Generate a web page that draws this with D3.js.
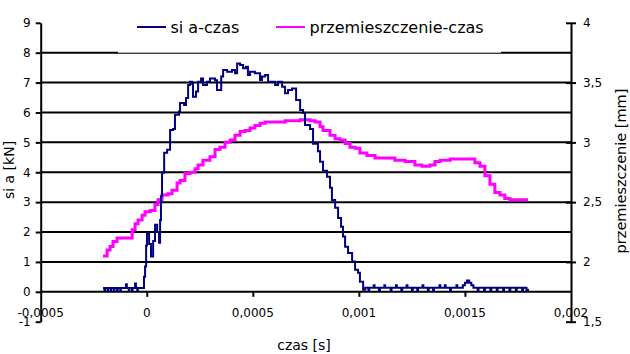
<!DOCTYPE html>
<html><head><meta charset="utf-8">
<script src="https://cdn.jsdelivr.net/npm/d3@7"></script>
<style>body{margin:0;background:#fff}svg{display:block}text{font-family:"DejaVu Sans",sans-serif;fill:#000}</style>
</head><body><svg id="c" width="630" height="354"></svg>
<script>
// ---- data (time in seconds) ----
const forceTime = [-206e-6,-200e-6,-197e-6,-185e-6,-182e-6,-170e-6,-167e-6,-155e-6,-152e-6,-140e-6,
 -137e-6,-125e-6,-122e-6,-98e-6,-94e-6,-85e-6,-82e-6,-70e-6,-67e-6,-55e-6,
 -51e-6,-45e-6,-42e-6,-13e-6,-8e-6,-3e-6,1e-6,11e-6,
 20e-6,30e-6,39e-6,49e-6,58e-6,63e-6,67e-6,72e-6,82e-6,96e-6,
 110e-6,124e-6,133e-6,152e-6,157e-6,176e-6,185e-6,195e-6,204e-6,214e-6,
 218e-6,232e-6,242e-6,256e-6,265e-6,284e-6,298e-6,322e-6,331e-6,351e-6,
 360e-6,379e-6,402e-6,416e-6,426e-6,440e-6,454e-6,468e-6,477e-6,487e-6,
 510e-6,534e-6,543e-6,558e-6,572e-6,591e-6,605e-6,619e-6,638e-6,652e-6,
 666e-6,685e-6,704e-6,723e-6,737e-6,746e-6,770e-6,784e-6,807e-6,817e-6,
 831e-6,850e-6,864e-6,873e-6,888e-6,902e-6,916e-6,925e-6,935e-6,949e-6,
 968e-6,982e-6,996e-6,1005e-6,1020e-6,1030e-6,1045e-6,1049e-6,1070e-6,1074e-6,
 1095e-6,1099e-6,1120e-6,1124e-6,1150e-6,1154e-6,1175e-6,1179e-6,1200e-6,1204e-6,
 1225e-6,1229e-6,1250e-6,1254e-6,1275e-6,1279e-6,1300e-6,1304e-6,1325e-6,1329e-6,
 1350e-6,1354e-6,1380e-6,1384e-6,1405e-6,1409e-6,1430e-6,1434e-6,1460e-6,1464e-6,
 1490e-6,1500e-6,1510e-6,1520e-6,1530e-6,1540e-6,1560e-6,1564e-6,1590e-6,1594e-6,
 1620e-6,1624e-6,1650e-6,1654e-6,1680e-6,1684e-6,1710e-6,1714e-6,1740e-6,1744e-6,
 1770e-6,1774e-6,1790e-6,1797e-6];
const forceValues = [0.13,0.05,0.13,0.05,0.13,0.05,0.13,0.05,0.13,0.05,
 0.13,0.05,0.13,0.25,0.13,0.05,0.13,0.05,0.13,0.28,
 0.13,0.05,0.13,0.5,0.85,1.55,1.97,1.6,
 1.18,1.7,2.24,2.0,1.64,2.4,3.2,3.98,4.65,4.75,
 5.41,5.45,5.92,6.03,6.32,6.25,6.48,6.92,7.03,6.95,
 6.53,6.7,7.03,7.14,6.92,7.03,7.14,7.08,6.75,7.2,
 7.42,7.36,7.42,7.31,7.64,7.59,7.48,7.53,7.25,7.36,
 7.31,7.09,7.2,7.25,7.03,7.03,6.92,7.03,6.86,6.64,
 6.75,6.8,6.42,6.08,5.98,5.58,5.45,4.95,4.7,4.35,
 4.05,3.85,3.48,3.07,2.81,2.47,2.18,1.85,1.51,1.3,
 1.01,0.74,0.64,0.34,0.07,0.14,0.05,0.14,0.22,0.14,
 0.05,0.14,0.22,0.14,0.05,0.14,0.22,0.14,0.05,0.14,
 0.22,0.14,0.05,0.14,0.05,0.14,0.22,0.14,0.05,0.14,
 0.05,0.14,0.22,0.14,0.22,0.14,0.05,0.14,0.22,0.14,
 0.22,0.3,0.38,0.3,0.22,0.14,0.05,0.14,0.05,0.14,
 0.05,0.14,0.05,0.14,0.05,0.14,0.05,0.14,0.05,0.14,
 0.05,0.14,0.05,0.1];
const dispTime = [-206e-6,-187e-6,-173e-6,-159e-6,-140e-6,-74e-6,-69e-6,-55e-6,-41e-6,-22e-6,
 -8e-6,16e-6,39e-6,53e-6,72e-6,100e-6,119e-6,143e-6,157e-6,180e-6,
 204e-6,228e-6,242e-6,265e-6,298e-6,322e-6,345e-6,369e-6,393e-6,416e-6,
 440e-6,463e-6,487e-6,510e-6,534e-6,558e-6,605e-6,652e-6,723e-6,746e-6,
 770e-6,794e-6,817e-6,831e-6,864e-6,888e-6,911e-6,935e-6,958e-6,982e-6,
 1005e-6,1038e-6,1076e-6,1123e-6,1170e-6,1218e-6,1264e-6,1297e-6,1335e-6,1359e-6,
 1383e-6,1430e-6,1477e-6,1524e-6,1547e-6,1571e-6,1594e-6,1618e-6,1641e-6,1665e-6,
 1688e-6,1712e-6,1797e-6];
const dispValues = [2.05,2.10,2.13,2.17,2.20,2.20,2.27,2.32,2.35,2.39,
 2.42,2.43,2.48,2.52,2.56,2.57,2.60,2.66,2.68,2.74,
 2.75,2.78,2.81,2.85,2.88,2.94,2.96,3.00,3.02,3.06,
 3.09,3.10,3.12,3.14,3.16,3.17,3.17,3.18,3.19,3.19,
 3.18,3.17,3.13,3.10,3.06,3.03,3.02,2.99,2.96,2.95,
 2.91,2.89,2.87,2.87,2.85,2.84,2.81,2.80,2.81,2.84,
 2.85,2.86,2.86,2.86,2.83,2.80,2.72,2.65,2.58,2.56,
 2.53,2.52,2.52];
const seriesNames = ["si a-czas", "przemieszczenie-czas"];
const seriesColors = ["#000080", "#ff00ff"];
const xTicks = [-0.0005, 0, 0.0005, 0.001, 0.0015, 0.002];
const xTickLabels = ["-0,0005", "0", "0,0005", "0,001", "0,0015", "0,002"];
const leftTicks = [-1, 0, 1, 2, 3, 4, 5, 6, 7, 8, 9];
const gridValues = [0, 1, 2, 3, 4, 5, 6, 7, 8];
const rightTicks = [1.5, 2, 2.5, 3, 3.5, 4];
const rightTickLabels = ["1,5", "2", "2,5", "3", "3,5", "4"];
const xTitle = "czas [s]", yLeftTitle = "si a [kN]", yRightTitle = "przemieszczenie [mm]";

// ---- layout ----
const L = 40.7, R = 571, T = 22.8, B = 321.7;
const svg = d3.select("#c");
const x = d3.scaleLinear().domain([-0.0005, 0.002]).range([L, R]);
const yL = d3.scaleLinear().domain([-1, 9]).range([B, T]);
const yR = d3.scaleLinear().domain([1.5, 4]).range([B, T]);

// gridlines
svg.append("g").selectAll("line").data(gridValues).join("line")
  .attr("x1", L).attr("x2", R).attr("y1", d => yL(d)).attr("y2", d => yL(d))
  .attr("stroke", "#000").attr("stroke-width", 2);

// x axis at y=0
const xAxis = d3.axisBottom(x).tickValues(xTicks.slice(1, -1)).tickSize(5).tickSizeOuter(0).tickFormat("");
const gx = svg.append("g").attr("transform", `translate(0,${yL(0)})`).call(xAxis);
gx.select(".domain").remove();
gx.selectAll(".tick line").attr("stroke", "#000").attr("stroke-width", 2);
svg.append("g").selectAll("text").data(xTicks).join("text")
  .attr("x", d => x(d)).attr("y", 313).attr("text-anchor", "middle").attr("dominant-baseline", "central")
  .attr("font-size", 12).text((d, i) => xTickLabels[i]);

// left axis
const yAxisL = d3.axisLeft(yL).tickValues(leftTicks).tickSize(5).tickSizeOuter(0).tickPadding(5)
  .tickFormat(d => String(d).replace(".", ","));
const gl = svg.append("g").attr("transform", `translate(${L},0)`).call(yAxisL);
gl.select(".domain").attr("stroke", "#000").attr("stroke-width", 2);
gl.selectAll(".tick line").attr("stroke", "#000").attr("stroke-width", 2);
gl.selectAll(".tick text").attr("font-size", 12).attr("font-family", "DejaVu Sans").attr("fill", "#000");

// right axis
const yAxisR = d3.axisRight(yR).tickValues(rightTicks).tickSize(5).tickSizeOuter(0).tickPadding(7)
  .tickFormat((d, i) => rightTickLabels[i]);
const gr = svg.append("g").attr("transform", `translate(${R},0)`).call(yAxisR);
gr.select(".domain").attr("stroke", "#000").attr("stroke-width", 2);
gr.selectAll(".tick line").attr("stroke", "#000").attr("stroke-width", 2).attr("x1", -5);
gr.selectAll(".tick text").attr("font-size", 12).attr("font-family", "DejaVu Sans").attr("fill", "#000");

// series
const lineF = d3.line().x(d => x(d[0])).y(d => yL(d[1])).curve(d3.curveStepAfter);
const lineD = d3.line().x(d => x(d[0])).y(d => yR(d[1])).curve(d3.curveStepAfter);
svg.append("path").datum(dispTime.map((t, i) => [t, dispValues[i]]))
  .attr("d", lineD).attr("fill", "none").attr("stroke", seriesColors[1]).attr("stroke-width", 3);
svg.append("path").datum(forceTime.map((t, i) => [t, forceValues[i]]))
  .attr("d", lineF).attr("fill", "none").attr("stroke", seriesColors[0]).attr("stroke-width", 2);

// legend
svg.append("rect").attr("x", 118).attr("y", 4).attr("width", 383).attr("height", yL(8) - 4).attr("fill", "#fff");
const legX = [137, 276];
seriesNames.forEach((n, i) => {
  svg.append("line").attr("x1", legX[i]).attr("x2", legX[i] + 29).attr("y1", 27).attr("y2", 27)
    .attr("stroke", seriesColors[i]).attr("stroke-width", 2);
  svg.append("text").attr("x", legX[i] + 33.5).attr("y", 27).attr("dominant-baseline", "central")
    .attr("font-size", 16).text(n);
});

// axis titles
svg.append("text").attr("x", 304).attr("y", 345).attr("text-anchor", "middle").attr("dominant-baseline", "central")
  .attr("font-size", 14).text(xTitle);
svg.append("text").attr("transform", "translate(9,170) rotate(-90)").attr("text-anchor", "middle")
  .attr("dominant-baseline", "central").attr("font-size", 14).text(yLeftTitle);
svg.append("text").attr("transform", "translate(621,171) rotate(-90)").attr("text-anchor", "middle")
  .attr("dominant-baseline", "central").attr("font-size", 14.5).text(yRightTitle);
</script></body></html>
